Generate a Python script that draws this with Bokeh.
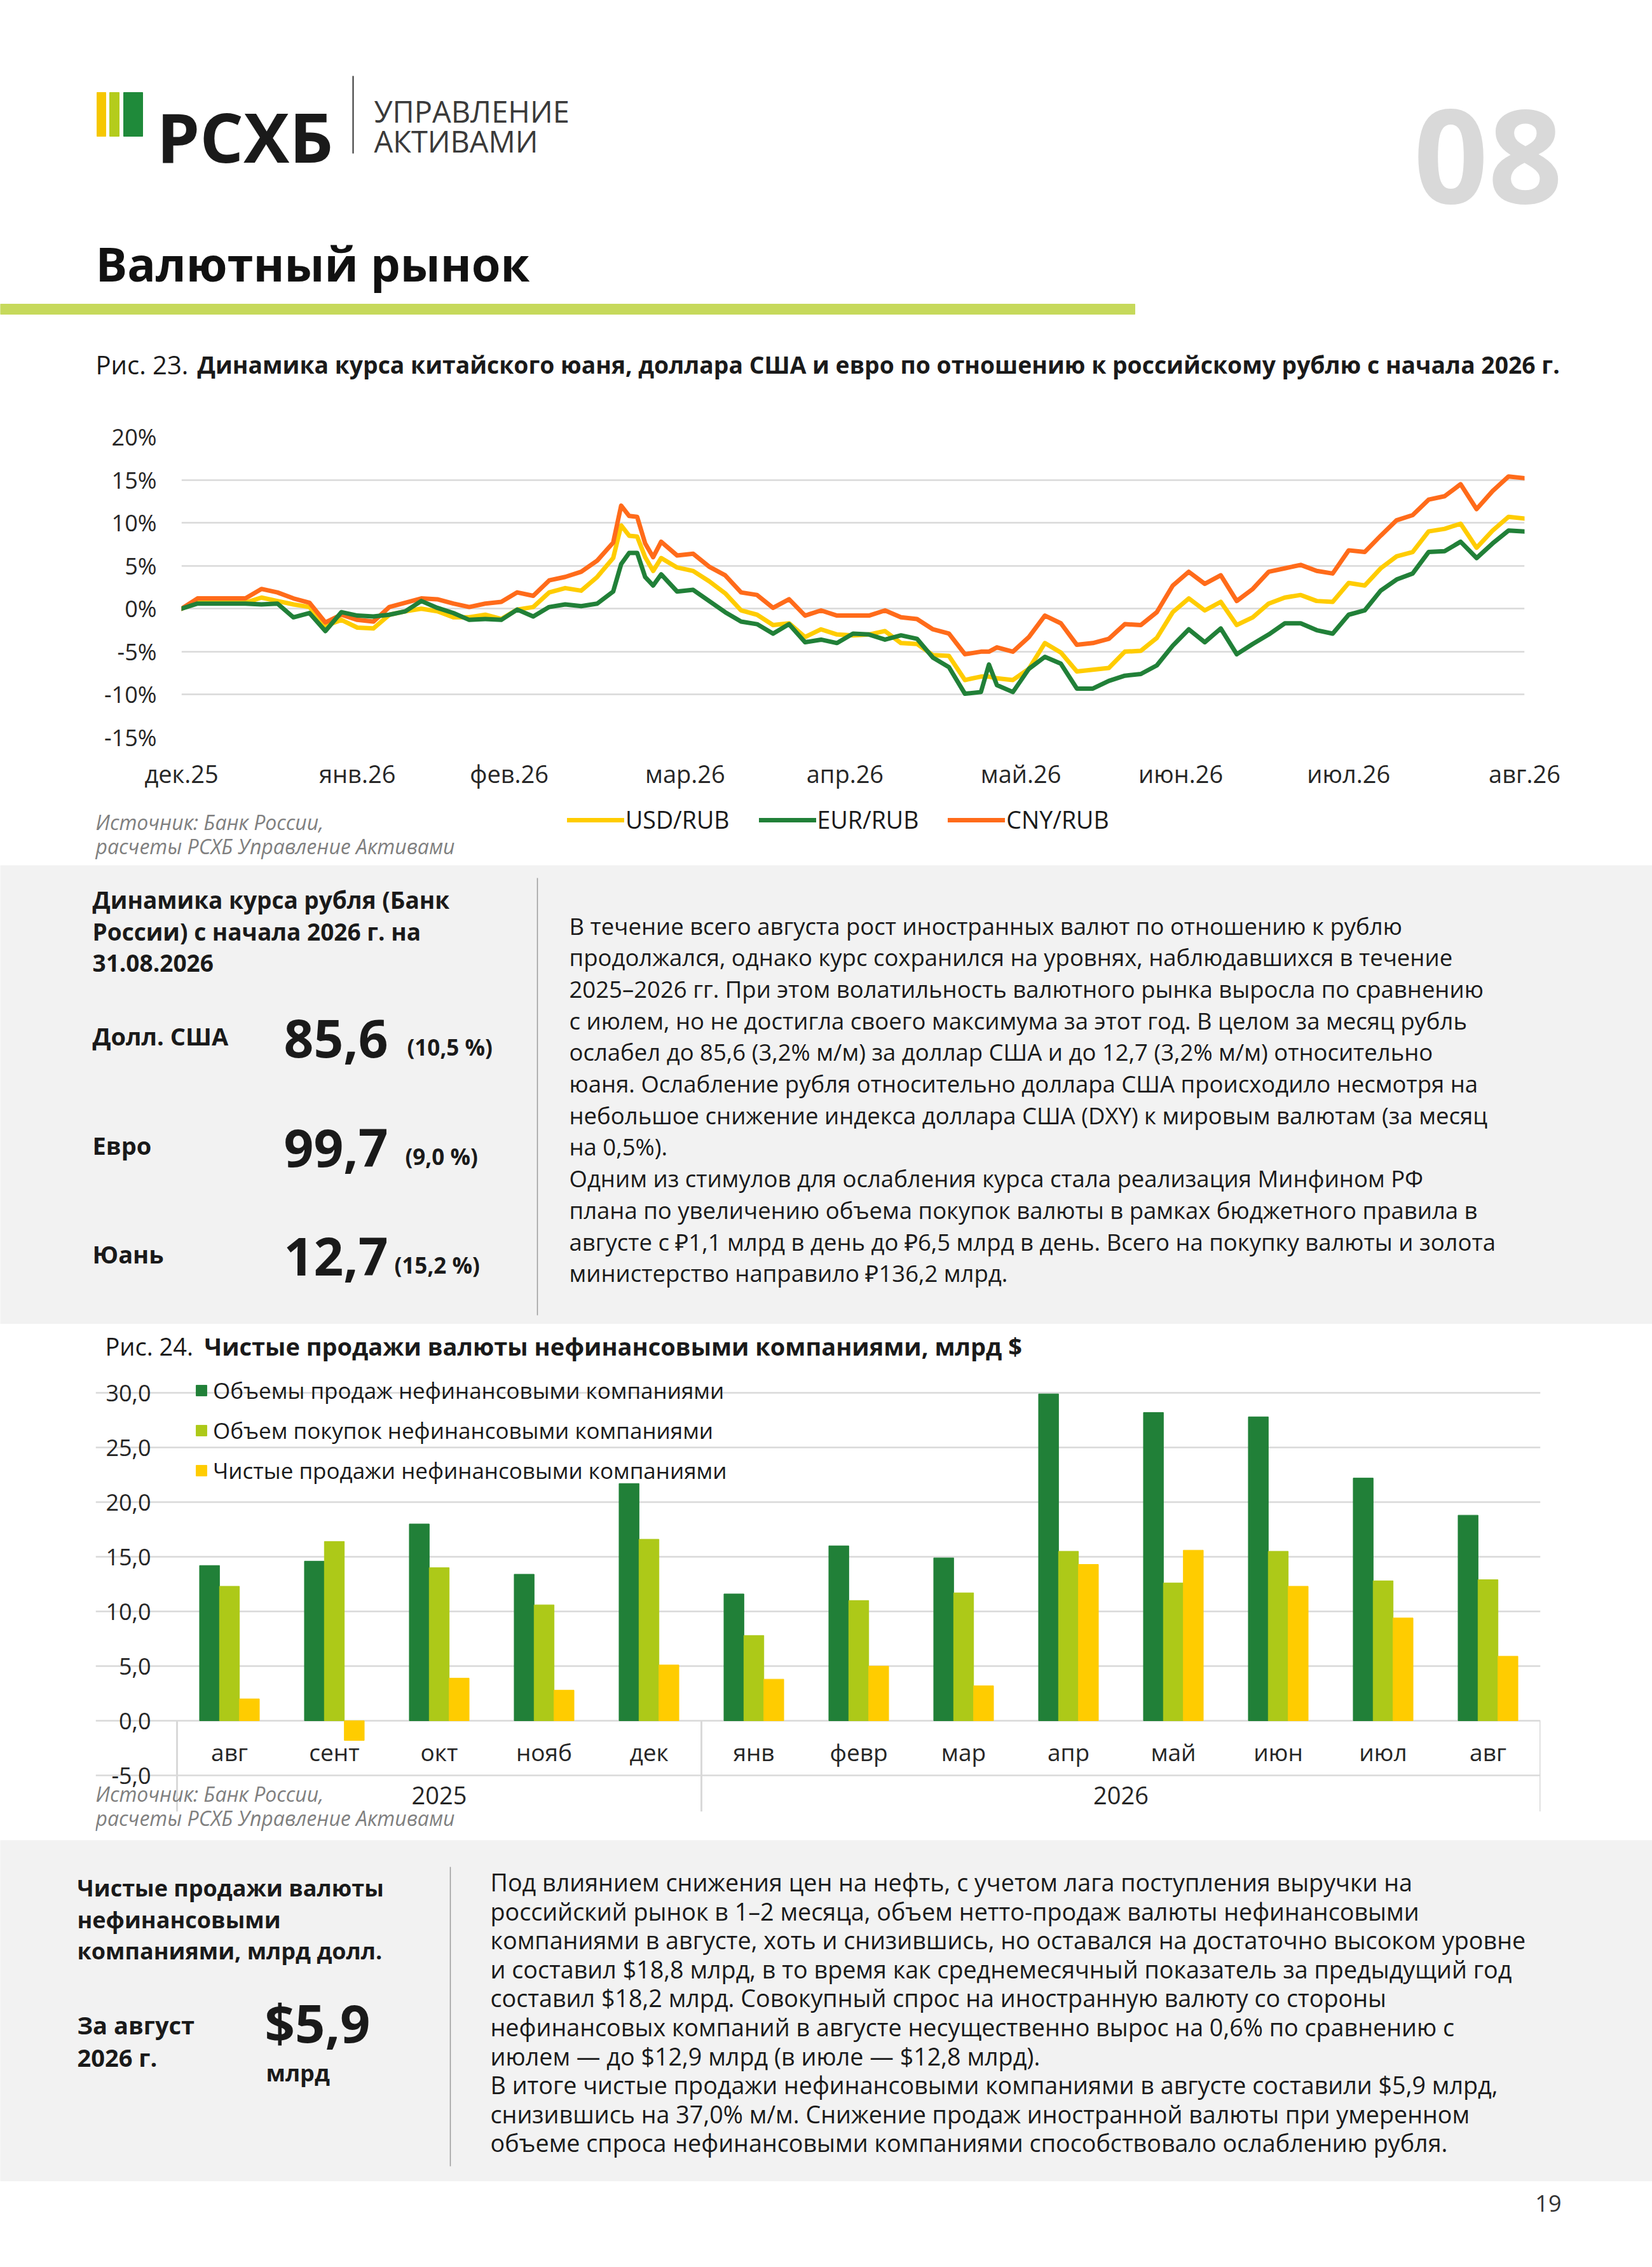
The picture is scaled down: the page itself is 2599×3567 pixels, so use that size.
from bokeh.plotting import figure
from bokeh.models import Range1d, FixedTicker, Legend, LegendItem, ColumnDataSource
from bokeh.layouts import column
from bokeh.embed import file_html
from bokeh.resources import INLINE
from bokeh.core.properties import value
from bokeh.transform import dodge

FONT = "Open Sans"
W = 2599

# ---------------- Chart 1 data (изменение курса с начала периода, %) ----------------
day_idx = [0, 2, 4, 6, 8, 10, 12, 14, 16, 18, 20, 22, 24, 26, 28, 30, 32, 34, 36, 38, 40,
           42, 44, 46, 48, 50, 52, 54, 55, 56, 57, 58, 59, 60, 62, 64, 66, 68, 70, 72, 74,
           76, 78, 80, 82, 84, 86, 88, 90, 92, 94, 96, 98, 100, 101, 102, 104, 106, 108,
           110, 112, 114, 116, 118, 120, 122, 124, 126, 128, 130, 132, 134, 136, 138, 140,
           142, 144, 146, 148, 150, 152, 154, 156, 158, 160, 162, 164, 166, 168]
usd_rub = [0.0, 0.7, 0.7, 0.7, 0.7, 1.3, 0.9, 0.5, 0.2, -2.0, -1.3, -2.2, -2.3, -0.7, -0.3, 0.0,
           -0.3, -1.0, -1.0, -0.7, -1.2, -0.1, 0.2, 1.9, 2.4, 2.1, 3.7, 5.9, 9.7, 8.5, 8.4, 6.0,
           4.4, 5.9, 4.8, 4.4, 3.2, 1.8, -0.2, -0.7, -1.9, -1.7, -3.3, -2.4, -3.0, -3.1, -3.0,
           -2.6, -4.0, -4.1, -5.4, -5.5, -8.3, -7.9, -7.9, -8.1, -8.3, -7.0, -4.0, -5.1, -7.3,
           -7.1, -6.9, -5.0, -4.9, -3.4, -0.4, 1.2, -0.2, 0.8, -1.9, -1.0, 0.6, 1.3, 1.6, 0.9,
           0.8, 3.0, 2.7, 4.7, 6.1, 6.6, 9.0, 9.3, 9.9, 7.1, 9.1, 10.7, 10.5]
eur_rub = [0.0, 0.6, 0.6, 0.6, 0.6, 0.5, 0.6, -1.0, -0.5, -2.6, -0.4, -0.8, -0.9, -0.7, -0.3, 0.9,
           0.1, -0.5, -1.3, -1.2, -1.3, -0.1, -0.9, 0.2, 0.5, 0.3, 0.6, 2.0, 5.2, 6.5, 6.5, 3.7,
           2.7, 4.0, 2.0, 2.2, 0.9, -0.4, -1.5, -1.8, -2.9, -1.8, -3.9, -3.6, -4.0, -2.9, -3.0,
           -3.6, -3.1, -3.5, -5.7, -6.8, -9.9, -9.7, -6.5, -8.9, -9.7, -7.0, -5.6, -6.4, -9.3,
           -9.3, -8.4, -7.8, -7.6, -6.6, -4.3, -2.4, -3.9, -2.3, -5.3, -4.1, -3.0, -1.7, -1.7,
           -2.5, -2.9, -0.7, -0.2, 2.1, 3.4, 4.1, 6.6, 6.7, 7.8, 5.9, 7.6, 9.1, 9.0]
cny_rub = [0.0, 1.2, 1.2, 1.2, 1.2, 2.3, 1.9, 1.2, 0.7, -1.6, -0.7, -1.3, -1.5, 0.2, 0.7, 1.2,
           1.1, 0.6, 0.2, 0.6, 0.8, 1.9, 1.5, 3.3, 3.7, 4.3, 5.6, 7.7, 12.0, 10.8, 10.7, 7.6,
           6.0, 7.8, 6.2, 6.4, 4.9, 3.9, 1.9, 1.6, 0.1, 1.1, -0.8, -0.2, -0.8, -0.8, -0.8,
           -0.2, -1.0, -1.2, -2.4, -2.9, -5.3, -5.0, -5.0, -4.5, -5.0, -3.3, -0.8, -1.7, -4.2,
           -4.0, -3.5, -1.8, -1.9, -0.4, 2.7, 4.3, 2.9, 3.9, 0.9, 2.3, 4.3, 4.7, 5.1, 4.4,
           4.1, 6.8, 6.6, 8.5, 10.3, 10.9, 12.7, 13.1, 14.5, 11.6, 13.7, 15.4, 15.2]
month_start_idx = [0, 22, 41, 63, 83, 105, 125, 146, 168]
month_labels1 = ["дек.25", "янв.26", "фев.26", "мар.26", "апр.26", "май.26", "июн.26", "июл.26", "авг.26"]
pct_ticks = [-15, -10, -5, 0, 5, 10, 15, 20]

# ---------------- Chart 2 data (млрд $) ----------------
months2 = ["авг", "сент", "окт", "нояб", "дек", "янв", "февр", "мар", "апр", "май", "июн", "июл", "авг"]
years2 = ["2025", "2025", "2025", "2025", "2025", "2026", "2026", "2026", "2026", "2026", "2026", "2026", "2026"]
sales = [14.2, 14.6, 18.0, 13.4, 21.7, 11.6, 16.0, 14.9, 29.9, 28.2, 27.8, 22.2, 18.8]
purchases = [12.3, 16.4, 14.0, 10.6, 16.6, 7.8, 11.0, 11.7, 15.5, 12.6, 15.5, 12.8, 12.9]
net_sales = [2.0, -1.8, 3.9, 2.8, 5.1, 3.8, 5.0, 3.2, 14.3, 15.6, 12.3, 9.4, 5.9]
bn_ticks = [-5, 0, 5, 10, 15, 20, 25, 30]

# ---------------- colours ----------------
C_YEL = "#ffcc00"
C_GRN = "#218038"
C_ORG = "#ff6b1a"
C_LIME = "#adc918"
C_GRID = "#d9d9d9"
C_PANEL = "#f2f2f2"
C_TXT = "#1a1a1a"
C_SRC = "#7f7f7f"


def pixfig(y0, y1, bg="white"):
    p = figure(width=W, height=y1 - y0, x_range=Range1d(0, W), y_range=Range1d(y1, y0),
               output_backend="svg", toolbar_location=None, min_border=0, frame_align=False,
               x_axis_type=None, y_axis_type=None, outline_line_color=None,
               background_fill_color=bg, border_fill_color=bg)
    p.grid.visible = False
    return p


def txt(p, x, y, s, size, bold=False, italic=False, color=C_TXT, align="left", baseline="middle"):
    style = ("bold " if bold else "") + ("italic" if italic else "")
    style = style.strip() or "normal"
    p.text(x=[x], y=[y], text=[s], text_font=value(FONT), text_font_size=value(f"{size}px"),
           text_font_style=style, text_color=color, text_align=align, text_baseline=baseline)


# ================= Header =================
A = pixfig(0, 650)
A.quad(left=[152, 172, 194], right=[166, 187, 224], top=[145, 145, 145], bottom=[214, 214, 214],
       color=["#f6c700", "#b4cc1c", "#1f8a3a"])
txt(A, 246, 214, "РСХБ", 108, bold=True, color="#1a1a1a", baseline="alphabetic")
A.segment(x0=[555], y0=[119], x1=[555], y1=[241], line_color="#333333", line_width=2)
txt(A, 588, 174, "УПРАВЛЕНИЕ", 47, color="#3a3a3a", baseline="alphabetic")
txt(A, 588, 221, "АКТИВАМИ", 47, color="#3a3a3a", baseline="alphabetic")
txt(A, 2458, 246, "08", 205, bold=True, color="#d9d9d9", align="right", baseline="alphabetic")
txt(A, 150, 414, "Валютный рынок", 74, bold=True, color="#111111", baseline="alphabetic")
A.quad(left=[0], right=[1785], top=[478], bottom=[494], color="#c6d95b")
txt(A, 150, 573, "Рис. 23.", 40)
txt(A, 310, 573, "Динамика курса китайского юаня, доллара США и евро по отношению к российскому рублю с начала 2026 г.",
    37.3, bold=True)

# ================= Chart 1 =================
B = figure(width=W, height=595, x_range=Range1d(0, day_idx[-1]), y_range=Range1d(pct_ticks[0], pct_ticks[-1]),
           output_backend="svg", toolbar_location=None, outline_line_color=None, frame_align=False,
           min_border_left=285, min_border_right=W - 2398, min_border_top=37, min_border_bottom=83)
src1 = ColumnDataSource(dict(d=day_idx, usd=usd_rub, eur=eur_rub, cny=cny_rub))
line_kw = dict(line_width=7, line_join="round", line_cap="round")
B.line("d", "usd", source=src1, line_color=C_YEL, **line_kw)
B.line("d", "cny", source=src1, line_color=C_ORG, **line_kw)
B.line("d", "eur", source=src1, line_color=C_GRN, **line_kw)
B.xgrid.visible = False
B.ygrid.ticker = FixedTicker(ticks=pct_ticks)
B.ygrid.grid_line_color = C_GRID
B.ygrid.grid_line_width = 2.5
B.yaxis.ticker = FixedTicker(ticks=pct_ticks)
B.yaxis.major_label_overrides = {t: f"{t}%" for t in pct_ticks}
B.xaxis.ticker = FixedTicker(ticks=month_start_idx)
B.xaxis.major_label_overrides = dict(zip(month_start_idx, month_labels1))
for ax, fs in ((B.xaxis[0], "38px"), (B.yaxis[0], "36px")):
    ax.axis_line_color = None
    ax.major_tick_line_color = None
    ax.minor_tick_line_color = None
    ax.major_label_text_font = FONT
    ax.major_label_text_font_size = fs
    ax.major_label_text_color = "#262626"
B.yaxis.major_label_standoff = 33
B.xaxis.major_label_standoff = 24

# legend + source under chart 1
C = pixfig(1245, 1361)
lg = []
for lab, col in (("USD/RUB", C_YEL), ("EUR/RUB", C_GRN), ("CNY/RUB", C_ORG)):
    r = C.line(x=[-50, -40], y=[-50, -50], line_color=col, **line_kw)   # legend sample only (off-canvas)
    lg.append(LegendItem(label=lab, renderers=[r]))
leg1 = Legend(items=lg, orientation="horizontal", location=(892, 46), glyph_width=90, glyph_height=42,
              label_standoff=2, spacing=46, padding=0, margin=0, border_line_color=None,
              background_fill_alpha=0, label_text_font=FONT, label_text_font_size="37.5px",
              label_text_color="#1a1a1a", label_height=42)
C.add_layout(leg1, "center")
txt(C, 150, 1293, "Источник: Банк России,", 32, italic=True, color=C_SRC)
txt(C, 150, 1331, "расчеты РСХБ Управление Активами", 32, italic=True, color=C_SRC)

# ================= Panel 1 =================
D = pixfig(1361, 2083, bg=C_PANEL)
for i, s in enumerate(["Динамика курса рубля (Банк", "России) с начала 2026 г. на", "31.08.2026"]):
    txt(D, 145, 1415 + 50 * i, s, 37, bold=True)
for name, num, chg, yy, xc in (("Долл. США", "85,6", "(10,5 %)", 1633, 640),
                               ("Евро", "99,7", "(9,0 %)", 1805, 637),
                               ("Юань", "12,7", "(15,2 %)", 1976, 620)):
    txt(D, 145, yy - 4, name, 38, bold=True)
    txt(D, 446, yy, num, 82, bold=True)
    txt(D, xc, yy + 14, chg, 35, bold=True)
D.segment(x0=[845], y0=[1381], x1=[845], y1=[2069], line_color="#9a9a9a", line_width=1.5)
par1 = ["В течение всего августа рост иностранных валют по отношению к рублю",
        "продолжался, однако курс сохранился на уровнях, наблюдавшихся в течение",
        "2025–2026 гг. При этом волатильность валютного рынка выросла по сравнению",
        "с июлем, но не достигла своего максимума за этот год. В целом за месяц рубль",
        "ослабел до 85,6 (3,2% м/м) за доллар США и до 12,7 (3,2% м/м) относительно",
        "юаня. Ослабление рубля относительно доллара США происходило несмотря на",
        "небольшое снижение индекса доллара США (DXY) к мировым валютам (за месяц",
        "на 0,5%).",
        "Одним из стимулов для ослабления курса стала реализация Минфином РФ",
        "плана по увеличению объема покупок валюты в рамках бюджетного правила в",
        "августе с ₽1,1 млрд в день до ₽6,5 млрд в день. Всего на покупку валюты и золота",
        "министерство направило ₽136,2 млрд."]
D.text(x=[895] * len(par1), y=[1456 + 49.7 * i for i in range(len(par1))], text=par1,
       text_font=value(FONT), text_font_size=value("36.5px"), text_color=C_TXT, text_baseline="middle")

# ================= Chart 2 =================
E = pixfig(2083, 2145)
txt(E, 165, 2117, "Рис. 24.", 38)
txt(E, 321, 2117, "Чистые продажи валюты нефинансовыми компаниями, млрд $", 38, bold=True)

F_TOP, F_BOT = 2145, 2895          # figure / frame vertical extent
F_FRAME_LEFT = 150                 # frame starts under the source note
CAT_LEFT, CAT_RIGHT = 278, 2423    # category area (first / last category edge)
ZERO_Y, PX_PER_BN = 2707, 17.2
CAT_PX = (CAT_RIGHT - CAT_LEFT) / len(months2)
x_start = -0.5 - (CAT_LEFT - F_FRAME_LEFT) / CAT_PX
F = figure(width=W, height=F_BOT - F_TOP, x_range=Range1d(x_start, len(months2) - 0.5),
           y_range=Range1d((ZERO_Y - F_BOT) / PX_PER_BN, (ZERO_Y - F_TOP) / PX_PER_BN),
           output_backend="svg", toolbar_location=None, outline_line_color=None, x_axis_location=None,
           frame_align=False, min_border_left=F_FRAME_LEFT, min_border_right=W - CAT_RIGHT,
           min_border_top=0, min_border_bottom=0)
idx2 = list(range(len(months2)))
src2 = ColumnDataSource(dict(x=idx2, m=months2, s=sales, b=purchases, n=net_sales))
F.ygrid.ticker = FixedTicker(ticks=bn_ticks)
F.ygrid.bounds = (-0.5, len(months2) - 0.5)
F.ygrid.grid_line_color = C_GRID
F.ygrid.grid_line_width = 2.5
F.xgrid.visible = False
F.yaxis.ticker = FixedTicker(ticks=bn_ticks)
F.yaxis.major_label_overrides = {t: f"{t:.1f}".replace(".", ",") for t in bn_ticks}
ya = F.yaxis[0]
ya.axis_line_color = None
ya.major_tick_line_color = None
ya.minor_tick_line_color = None
ya.major_label_text_font = FONT
ya.major_label_text_font_size = "36px"
ya.major_label_text_color = "#262626"
ya.major_label_standoff = -(243 - F_FRAME_LEFT)   # labels end at x=243, left of the category area
bw = 0.19
r_s = F.vbar(x=dodge("x", -bw, range=F.x_range), top="s", width=bw, source=src2, color=C_GRN)
r_b = F.vbar(x="x", top="b", width=bw, source=src2, color=C_LIME)
r_n = F.vbar(x=dodge("x", bw, range=F.x_range), top="n", width=bw, source=src2, color=C_YEL)
F.text(x="x", y=-2.85, text="m", source=src2, text_font=value(FONT), text_font_size=value("37px"),
       text_color="#262626", text_align="center", text_baseline="middle")
yrs = []
for y in years2:
    if y not in yrs:
        yrs.append(y)
yr_center = [sum(i for i, v in enumerate(years2) if v == y) / years2.count(y) for y in yrs]
bounds = [-0.5] + [i - 0.5 for i in range(1, len(years2)) if years2[i] != years2[i - 1]] + [len(years2) - 0.5]
F.segment(x0=bounds, y0=[0] * len(bounds), x1=bounds, y1=[-8.3] * len(bounds), line_color=C_GRID, line_width=3)
F.text(x=yr_center, y=[-6.86] * len(yrs), text=yrs, text_font=value(FONT), text_font_size=value("38px"),
       text_color="#262626", text_align="center", text_baseline="middle")
F.text(x=[x_start, x_start], y=[-6.69, -8.9], text=["Источник: Банк России,", "расчеты РСХБ Управление Активами"],
       text_font=value(FONT), text_font_size=value("32px"), text_font_style="italic", text_color=C_SRC,
       text_baseline="middle")
leg2 = Legend(items=[LegendItem(label="Объемы продаж нефинансовыми компаниями", renderers=[r_s]),
                     LegendItem(label="Объем покупок нефинансовыми компаниями", renderers=[r_b]),
                     LegendItem(label="Чистые продажи нефинансовыми компаниями", renderers=[r_n])],
              orientation="vertical", location=(306 - F_FRAME_LEFT, 558), glyph_width=21, glyph_height=21,
              label_standoff=8, spacing=16, padding=0, margin=0, border_line_color=None,
              background_fill_alpha=0, label_text_font=FONT, label_text_font_size="35px",
              label_text_color="#1a1a1a", label_height=40)
F.add_layout(leg2, "center")

# ================= Panel 2 =================
G = pixfig(2895, 3560)
G.quad(left=[0], right=[W], top=[2895], bottom=[3431], color=C_PANEL)
for i, s in enumerate(["Чистые продажи валюты", "нефинансовыми", "компаниями, млрд долл."]):
    txt(G, 121, 2970 + 49.5 * i, s, 36, bold=True)
txt(G, 121, 3185, "За август", 38, bold=True)
txt(G, 121, 3236, "2026 г.", 38, bold=True)
txt(G, 416, 3181, "$5,9", 83, bold=True)
txt(G, 418, 3261, "млрд", 36, bold=True)
G.segment(x0=[708], y0=[2937], x1=[708], y1=[3408], line_color="#9a9a9a", line_width=1.5)
par2 = ["Под влиянием снижения цен на нефть, с учетом лага поступления выручки на",
        "российский рынок в 1–2 месяца, объем нетто-продаж валюты нефинансовыми",
        "компаниями в августе, хоть и снизившись, но оставался на достаточно высоком уровне",
        "и составил $18,8 млрд, в то время как среднемесячный показатель за предыдущий год",
        "составил $18,2 млрд. Совокупный спрос на иностранную валюту со стороны",
        "нефинансовых компаний в августе несущественно вырос на 0,6% по сравнению с",
        "июлем — до $12,9 млрд (в июле — $12,8 млрд).",
        "В итоге чистые продажи нефинансовыми компаниями в августе составили $5,9 млрд,",
        "снизившись на 37,0% м/м. Снижение продаж иностранной валюты при умеренном",
        "объеме спроса нефинансовыми компаниями способствовало ослаблению рубля."]
G.text(x=[771] * len(par2), y=[2961 + 45.6 * i for i in range(len(par2))], text=par2,
       text_font=value(FONT), text_font_size=value("37.7px"), text_color=C_TXT, text_baseline="middle")
txt(G, 2456, 3466, "19", 36, color="#333333", align="right")

page = column(A, B, C, D, E, F, G, spacing=0)
open("out.html", "w").write(file_html(page, INLINE))
